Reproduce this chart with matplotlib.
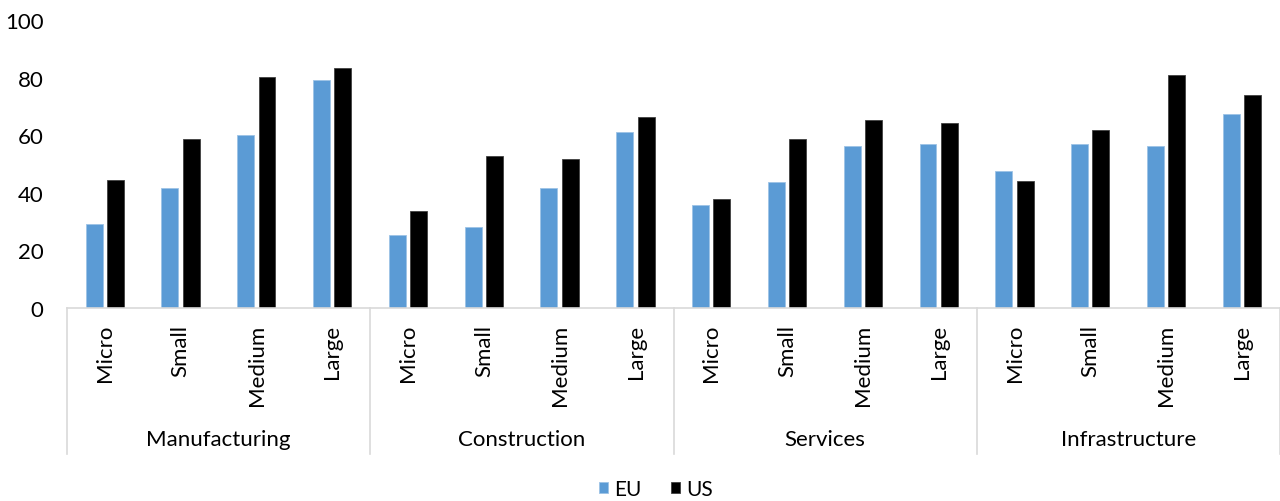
import numpy as np
import matplotlib.pyplot as plt
from matplotlib.transforms import blended_transform_factory

sectors = ["Manufacturing", "Construction", "Services", "Infrastructure"]
sizes = ["Micro", "Small", "Medium", "Large"]
eu = [29.3, 41.5, 60.0, 79.2,
      25.2, 28.1, 41.5, 61.1,
      35.9, 43.8, 56.3, 56.8,
      47.7, 57.1, 56.4, 67.2]
us = [44.3, 58.6, 80.1, 83.5,
      33.8, 52.7, 51.8, 66.3,
      37.9, 58.6, 65.3, 64.3,
      44.2, 61.7, 80.8, 73.9]

plt.rcParams["font.family"] = ["Lato", "DejaVu Sans"]

fig = plt.figure(figsize=(12.8, 5.02), dpi=100)
ax = fig.add_axes([67 / 1280, 1 - 309 / 502, 1 - 67 / 1280, 288 / 502])

x = np.arange(len(eu))
w = 0.224
ax.bar(x - 0.143, eu, w, color="#5B9BD5", edgecolor="#9dc3e6", lw=0.6, label="EU")
ax.bar(x + 0.138, us, w, color="black", edgecolor="#404040", lw=0.6, label="US")

ax.set_xlim(-0.5, len(eu) - 0.5)
ax.set_ylim(0, 100)
ax.set_yticks(range(0, 101, 20))
ax.tick_params(axis="y", length=0, labelsize=16, pad=17)
ax.set_xticks([])
for s in ["top", "right", "left"]:
    ax.spines[s].set_visible(False)
ax.spines["bottom"].set_color("#d9d9d9")
ax.spines["bottom"].set_linewidth(1.2)

trans = blended_transform_factory(ax.transData, ax.transAxes)
for i in x:
    ax.text(i, -0.055, sizes[i % 4], rotation=90, ha="center", va="top",
            fontsize=16, transform=trans)
for j, name in enumerate(sectors):
    ax.text(j * 4 + 1.5, -0.455, name, ha="center", va="center",
            fontsize=16, transform=trans)
for b in [-0.5, 3.5, 7.5, 11.5, 15.5]:
    ax.plot([b, b], [0, -0.507], color="#d9d9d9", lw=1.2,
            transform=trans, clip_on=False)

fig.legend(loc="center", bbox_to_anchor=(656 / 1280, 1 - 490 / 502), ncol=2,
           frameon=False, fontsize=15, handlelength=0.45, handleheight=0.45,
           handletextpad=0.3, columnspacing=1.4)

fig.savefig("out.png", dpi=100)
